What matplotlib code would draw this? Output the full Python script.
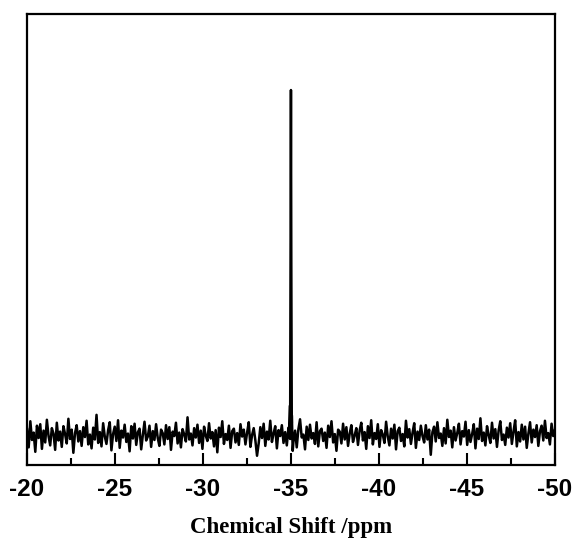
import numpy as np
import matplotlib.pyplot as plt
from matplotlib.ticker import MultipleLocator

plt.rcParams["axes.unicode_minus"] = False

# baseline noise (arbitrary intensity units), read left to right from -20 to -50 ppm
NOISE = [
    1.2, -2.5, 2.8, -1.0, 0.5, -3.4, 1.9, -0.6, 2.2, -2.8, 0.9, -1.5, 3.1, -0.2, -2.1, 1.4, 0.3, -3.0, 2.5, -1.1,
    0.7, -2.4, 1.8, 0.2, -1.7, 3.3, -0.8, 1.1, -3.6, 0.4, 2.0, -1.3, 0.8, -2.2, 1.6, -0.4, 2.9, -1.9, 0.1, -2.7,
    1.5, -0.9, 4.1, -1.6, 0.6, -2.3, 2.4, -0.3, -1.8, 1.0, 2.6, -3.1, 0.2, 1.7, -1.2, 3.0, -2.6, 0.9, -0.5, 2.1,
    -1.4, 0.3, -3.3, 1.8, -0.7, 2.3, -2.0, 0.6, 1.3, -2.9, 0.0, 2.7, -1.1, -0.3, 1.9, -2.4, 0.8, -1.0, 2.2, -0.6,
    -2.2, 1.1, 0.4, -1.9, 2.0, -0.8, 1.6, -3.0, 0.7, -0.2, 2.5, -1.7, 0.5, -2.5, 1.2, 0.1, -1.3, 3.6, -0.9, 0.3,
    -2.1, 1.4, -0.5, 2.1, -1.6, 0.9, -2.8, 1.7, -0.1, -1.2, 2.4, -0.7, 0.6, -2.3, 1.0, -3.5, 1.5, -0.4, 2.8, -1.8,
    0.2, -1.0, 1.9, -2.6, 0.8, 1.3, -1.5, 0.4, -2.0, 2.2, -0.3, 1.1, -1.9, 0.5, 2.6, -2.4, 0.0, 1.4, -1.1, -4.2,
    -1.7, 1.6, -0.6, 2.3, -2.2, 0.7, -0.9, 2.9, -1.4, 0.3, 1.8, -2.7, 1.0, -0.2, 2.0, -1.6, 0.6, -2.1, 1.5, -0.8,
    2.4, -1.3, 0.9, -2.5, 1.2, 3.2, -0.5, 0.1, -2.9, 1.7, -1.0, 2.1, -0.7, 0.4, -1.8, 2.6, -2.3, 0.8, 1.3, -1.2,
    0.5, -2.6, 1.9, -0.4, 2.8, -1.5, 0.2, -3.2, 1.1, 0.7, -1.7, 2.3, -0.9, 1.6, -2.2, 0.3, 2.0, -1.4, -0.1, 1.4,
    -2.0, 0.9, 2.5, -1.1, 0.6, -2.8, 1.8, -0.6, 3.0, -1.9, 0.4, -0.8, 2.2, -2.4, 1.0, 0.1, -1.6, 2.7, -0.3, -2.1,
    1.3, -0.7, 2.1, -2.9, 0.8, 1.5, -1.2, 0.2, -2.3, 2.9, -0.5, 1.2, -1.8, 0.5, 2.4, -2.6, 0.7, -1.0, 1.9, -0.2,
    -1.5, 2.0, -0.9, 1.1, -4.0, 0.6, 1.7, -1.3, 2.6, -0.6, 0.3, -2.2, 1.4, -1.7, 3.1, -0.4, 0.9, -2.5, 1.6, -1.1,
    0.4, 2.3, -1.9, 0.8, -0.3, 2.7, -2.0, 1.0, -1.4, 0.2, 2.2, -2.7, 1.3, -0.8, 3.4, -1.2, 0.5, -2.1, 1.8, 0.0,
    -1.6, 2.5, -0.7, 1.2, -2.4, 0.9, 2.8, -1.0, 0.1, -2.0, 1.5, -0.5, 2.4, -1.8, 0.7, 3.0, -2.3, 0.6, -1.3, 2.1,
    -0.9, 1.7, -2.6, 0.3, 2.6, -1.5, 1.1, -0.4, 2.0, -2.2, 0.8, 1.9, -1.1, 2.9, -0.6, 0.4, -1.9, 2.3, -0.2, 1.0,
]
NOISE_START, NOISE_END = -20.0, -50.0

# the single resonance near -35 ppm
PEAK_SHIFT = [-34.90, -34.95, -34.98, -35.00, -35.02, -35.05, -35.10]
PEAK_INT = [0.4, 6.0, 38.0, 70.0, 35.0, 4.0, -3.2]

fig = plt.figure(figsize=(5.75, 5.44), dpi=100)
ax = fig.add_axes([0.047, 0.145, 0.918, 0.829])

x_noise = np.linspace(NOISE_START, NOISE_END, len(NOISE))
shift = np.concatenate([x_noise, PEAK_SHIFT])
inten = np.concatenate([NOISE, PEAK_INT])
order = np.argsort(-shift)
ax.plot(shift[order], inten[order], color="black", lw=1.8)

ax.set_xlim(-20, -50)
ax.set_ylim(-6.1, 85.4)
ax.set_yticks([])
ax.xaxis.set_major_locator(MultipleLocator(5))
ax.xaxis.set_minor_locator(MultipleLocator(2.5))
ax.tick_params(axis="x", which="major", direction="in", length=9, width=1.5, pad=9)
ax.tick_params(axis="x", which="minor", direction="in", length=5, width=1.5)
for lab in ax.get_xticklabels():
    lab.set_fontfamily("Liberation Sans")
    lab.set_fontweight("bold")
    lab.set_fontsize(17.5)
for sp in ax.spines.values():
    sp.set_linewidth(1.6)

ax.set_xlabel("Chemical Shift /ppm", fontfamily="Liberation Serif",
              fontweight="bold", fontsize=16.5, labelpad=12)

fig.savefig("out.png", dpi=100)
